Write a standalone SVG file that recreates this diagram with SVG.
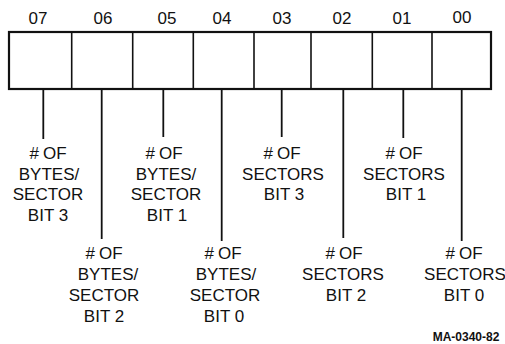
<svg xmlns="http://www.w3.org/2000/svg" width="505" height="344" viewBox="0 0 505 344">
<style>
.t{font-family:"Liberation Sans",Arial,sans-serif;font-size:17px;fill:#111;text-anchor:middle}
.n{font-family:"Liberation Sans",Arial,sans-serif;font-size:17px;fill:#111;text-anchor:middle}
.m{font-family:"Liberation Sans",Arial,sans-serif;font-size:12px;font-weight:bold;fill:#111;text-anchor:middle}
.b{fill:#fff;stroke:#111;stroke-width:2.2}
.d{stroke:#111;stroke-width:1.6;fill:none}
.c{stroke:#111;stroke-width:1.8;fill:none}
</style>
<rect width="505" height="344" fill="#fff"/>
<g id="register">
<rect class="b" x="9" y="32" width="482" height="57"/>
<line class="d" x1="71.7" y1="32" x2="71.7" y2="89"/>
<line class="d" x1="132.7" y1="32" x2="132.7" y2="89"/>
<line class="d" x1="193.3" y1="32" x2="193.3" y2="89"/>
<line class="d" x1="254" y1="32" x2="254" y2="89"/>
<line class="d" x1="311" y1="32" x2="311" y2="89"/>
<line class="d" x1="372.3" y1="32" x2="372.3" y2="89"/>
<line class="d" x1="432" y1="32" x2="432" y2="89"/>
<text class="n" x="38" y="24">07</text>
<text class="n" x="103" y="24">06</text>
<text class="n" x="167" y="24">05</text>
<text class="n" x="222" y="24">04</text>
<text class="n" x="282" y="24">03</text>
<text class="n" x="342" y="24">02</text>
<text class="n" x="402" y="24">01</text>
<text class="n" x="462" y="23">00</text>
</g>
<g id="connectors">
<line class="c" x1="43.3" y1="89" x2="43.3" y2="139"/>
<line class="c" x1="101.7" y1="89" x2="101.7" y2="239"/>
<line class="c" x1="163.3" y1="89" x2="163.3" y2="137"/>
<line class="c" x1="221.7" y1="89" x2="221.7" y2="241"/>
<line class="c" x1="281.7" y1="89" x2="281.7" y2="137"/>
<line class="c" x1="343.3" y1="89" x2="343.3" y2="238"/>
<line class="c" x1="403.3" y1="89" x2="403.3" y2="138"/>
<line class="c" x1="461.7" y1="89" x2="461.7" y2="241"/>
</g>
<g id="bit7">
<text class="t" x="48" y="158.5">#<tspan dx="4">OF</tspan></text>
<text class="t" x="49" y="179.5">BYTES/</text>
<text class="t" x="48" y="200">SECTOR</text>
<text class="t" x="48" y="221">BIT 3</text>
</g>
<g id="bit6">
<text class="t" x="104" y="258.5">#<tspan dx="4">OF</tspan></text>
<text class="t" x="108" y="279.5">BYTES/</text>
<text class="t" x="104" y="300.5">SECTOR</text>
<text class="t" x="104" y="321.5">BIT 2</text>
</g>
<g id="bit5">
<text class="t" x="164" y="158.5">#<tspan dx="4">OF</tspan></text>
<text class="t" x="166" y="179.5">BYTES/</text>
<text class="t" x="166" y="200">SECTOR</text>
<text class="t" x="167" y="221">BIT 1</text>
</g>
<g id="bit4">
<text class="t" x="223" y="258.5">#<tspan dx="4">OF</tspan></text>
<text class="t" x="226" y="279.5">BYTES/</text>
<text class="t" x="225" y="300.5">SECTOR</text>
<text class="t" x="224" y="321.5">BIT 0</text>
</g>
<g id="bit3">
<text class="t" x="282" y="158.5">#<tspan dx="4">OF</tspan></text>
<text class="t" x="283" y="179.5">SECTORS</text>
<text class="t" x="284" y="200">BIT 3</text>
</g>
<g id="bit2">
<text class="t" x="344" y="258.5">#<tspan dx="4">OF</tspan></text>
<text class="t" x="343" y="279.5">SECTORS</text>
<text class="t" x="346" y="300.5">BIT 2</text>
</g>
<g id="bit1">
<text class="t" x="404" y="158.5">#<tspan dx="4">OF</tspan></text>
<text class="t" x="404" y="179.5">SECTORS</text>
<text class="t" x="406" y="200">BIT 1</text>
</g>
<g id="bit0">
<text class="t" x="464" y="258.5">#<tspan dx="4">OF</tspan></text>
<text class="t" x="465" y="279.5">SECTORS</text>
<text class="t" x="464" y="300.5">BIT 0</text>
</g>
<text class="m" x="466" y="341">MA-0340-82</text>
</svg>
